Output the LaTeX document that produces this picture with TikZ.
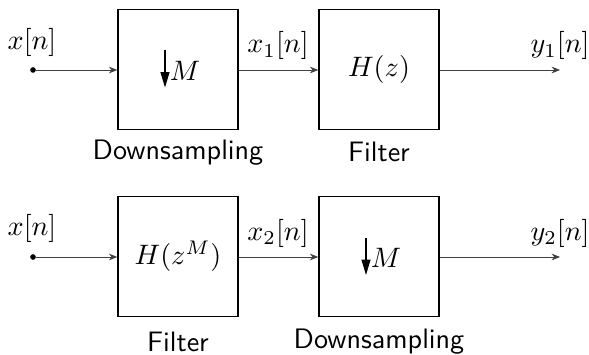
\documentclass[tikz,border=0pt]{standalone}
\usetikzlibrary{arrows.meta}
\begin{document}
\begin{tikzpicture}[x=0.0125cm,y=-0.0125cm,
  block/.style={draw, line width=0.5pt, minimum size=1.5cm, inner sep=0pt},
  wire/.style={line width=0.3pt, draw=black!75, -{Stealth[length=3pt,width=2.4pt]}},
  downarrow/.style={line width=0.4pt, -{Triangle[length=5.5pt,width=3.2pt]}},
  sig/.style={anchor=base, inner sep=0pt},
  caption/.style={anchor=base, inner sep=0pt, font=\sffamily},
  dot/.style={circle, fill, inner sep=0pt, minimum size=2pt}]
\useasboundingbox (0,0) rectangle (589,355);

% --- first chain: downsample, then filter ---
\node[dot] (in1) at (33,70) {};
\node[block] (ds1) at (178,69.5) {};
\node[inner sep=0pt] (m1) at (185,71) {$M$};
\coordinate (ds1top) at (165,50.5);
\coordinate (ds1bot) at (165,87.5);
\draw[downarrow] (ds1top) -- (ds1bot);
\node[block] (h1) at (379,69.5) {$H(z)$};
\coordinate (out1) at (560,70);

\draw[wire] (in1) -- (ds1.west |- in1);
\draw[wire] (ds1.east |- in1) -- (h1.west |- in1);
\draw[wire] (h1.east |- in1) -- (out1);

\node[sig] (lx1) at (32,50) {$x[n]$};
\node[sig] (lx11) at (278,53) {$x_1[n]$};
\node[sig] (ly1) at (560,53) {$y_1[n]$};
\node[caption] (c1) at (178,160) {Downsampling};
\node[caption] (c2) at (379,162) {Filter};

% --- second chain: filter with H(z^M), then downsample ---
\node[dot] (in2) at (33,257) {};
\node[block] (h2) at (178,256.5) {$H(z^M)$};
\node[block] (ds2) at (379,256.5) {};
\node[inner sep=0pt] (m2) at (386,258) {$M$};
\coordinate (ds2top) at (366,238);
\coordinate (ds2bot) at (366,275);
\draw[downarrow] (ds2top) -- (ds2bot);
\coordinate (out2) at (560,257);

\draw[wire] (in2) -- (h2.west |- in2);
\draw[wire] (h2.east |- in2) -- (ds2.west |- in2);
\draw[wire] (ds2.east |- in2) -- (out2);

\node[sig] (lx2) at (32,235) {$x[n]$};
\node[sig] (lx22) at (278,240) {$x_2[n]$};
\node[sig] (ly2) at (560,240) {$y_2[n]$};
\node[caption] (c3) at (178,351) {Filter};
\node[caption] (c4) at (379,348) {Downsampling};
\end{tikzpicture}
\end{document}
